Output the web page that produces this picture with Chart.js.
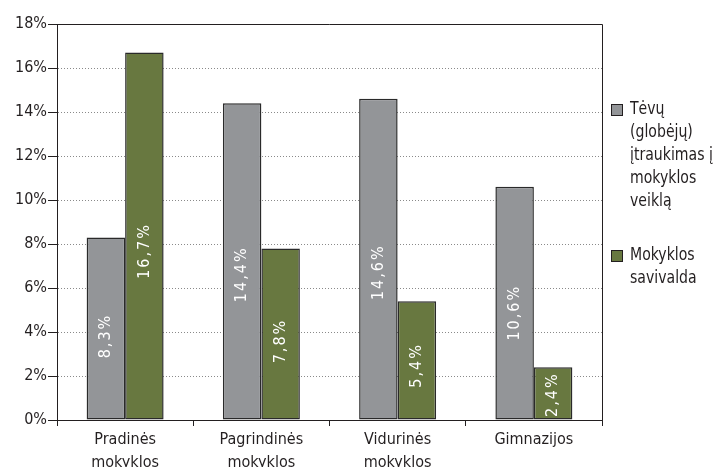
<!DOCTYPE html>
<html>
<head>
<meta charset="utf-8">
<script src="https://cdn.jsdelivr.net/npm/chart.js@4.4.0/dist/chart.umd.min.js"></script>
<style>
  html, body { margin: 0; padding: 0; background: #fff; }
  #wrap { width: 713px; height: 467px; }
</style>
</head>
<body>
<div id="wrap"><canvas id="chart" width="713" height="467"></canvas></div>
<script>
// data
const categories = [['Pradinės', 'mokyklos'], ['Pagrindinės', 'mokyklos'], ['Vidurinės', 'mokyklos'], ['Gimnazijos']];
const parentsValues = [8.3, 14.4, 14.6, 10.6];
const selfGovValues = [16.7, 7.8, 5.4, 2.4];
const seriesLines = [
  ['Tėvų', '(globėjų)', 'įtraukimas į', 'mokyklos', 'veiklą'],
  ['Mokyklos', 'savivalda']
];
const yTickValues = [0, 2, 4, 6, 8, 10, 12, 14, 16, 18];

const FONT = '"DejaVu Sans Condensed", "Liberation Sans", sans-serif';
const INK = '#231f20';
const GRAY = '#939598';
const GREEN = '#687840';

const fmt = v => v.toFixed(1).replace('.', ',') + '%';

// frame, rotated value labels and the right-hand legend
const extrasPlugin = {
  id: 'extras',
  afterDatasetsDraw(chart) {
    const { ctx, chartArea: a, scales: { y } } = chart;

    // top and right frame lines
    ctx.save();
    ctx.strokeStyle = INK;
    ctx.lineWidth = 1;
    ctx.beginPath();
    ctx.moveTo(a.left, a.top + 0.5);
    ctx.lineTo(a.right + 0.5, a.top + 0.5);
    ctx.lineTo(a.right + 0.5, a.bottom);
    ctx.stroke();
    ctx.restore();

    // value labels inside bars, reading bottom to top
    chart.data.datasets.forEach((ds, di) => {
      chart.getDatasetMeta(di).data.forEach((bar, i) => {
        const v = ds.data[i];
        const text = fmt(v);
        ctx.save();
        ctx.font = '16px ' + FONT;
        ctx.letterSpacing = '2px';
        const w = ctx.measureText(text).width;
        const base = y.getPixelForValue(0);
        const cy = Math.min(y.getPixelForValue(v * 0.46), base - w / 2 - 3);
        ctx.translate(bar.x, cy);
        ctx.rotate(-Math.PI / 2);
        ctx.fillStyle = '#fff';
        ctx.textAlign = 'center';
        ctx.textBaseline = 'middle';
        ctx.fillText(text, 0, 0);
        ctx.restore();
      });
    });

    // legend
    ctx.save();
    ctx.font = '17px ' + FONT;
    ctx.textBaseline = 'middle';
    let ly = 110;
    chart.data.datasets.forEach((ds, di) => {
      ctx.fillStyle = ds.backgroundColor;
      ctx.fillRect(611, ly - 6, 12, 12);
      ctx.strokeStyle = INK;
      ctx.lineWidth = 1;
      ctx.strokeRect(611.5, ly - 5.5, 11, 11);
      ctx.fillStyle = INK;
      seriesLines[di].forEach((line, li) => {
        ctx.save();
        ctx.translate(630, ly + li * 23);
        ctx.scale(0.92, 1);
        ctx.fillText(line, 0, 0);
        ctx.restore();
      });
      ly += seriesLines[di].length * 23 + 31;
    });
    ctx.restore();
  }
};

new Chart(document.getElementById('chart'), {
  type: 'bar',
  data: {
    labels: categories,
    datasets: [
      {
        label: seriesLines[0].join(' '),
        data: parentsValues,
        backgroundColor: GRAY,
        borderColor: '#2a2a2a',
        borderWidth: 1.5,
        borderSkipped: false
      },
      {
        label: seriesLines[1].join(' '),
        data: selfGovValues,
        backgroundColor: GREEN,
        borderColor: '#2a2a2a',
        borderWidth: 1.5,
        borderSkipped: false
      }
    ]
  },
  options: {
    responsive: false,
    animation: false,
    devicePixelRatio: 1,
    layout: { padding: { left: 0, right: 111, top: 24, bottom: 0 } },
    datasets: { bar: { categoryPercentage: 0.565, barPercentage: 1 } },
    plugins: {
      legend: { display: false },
      tooltip: { enabled: false }
    },
    scales: {
      x: {
        offset: true,
        grid: {
          offset: true,
          drawOnChartArea: false,
          tickLength: 6,
          tickColor: INK
        },
        border: { color: INK, width: 1 },
        ticks: {
          color: INK,
          padding: 2,
          font: { family: FONT, size: 16, lineHeight: 1.45 }
        },
        afterFit(s) { s.height = 47; }
      },
      y: {
        min: 0,
        max: 18,
        afterBuildTicks(s) { s.ticks = yTickValues.map(v => ({ value: v })); },
        grid: {
          color: '#8a8a8a',
          lineWidth: 1,
          tickLength: 9,
          tickColor: INK,
          tickBorderDash: []
        },
        border: { color: INK, width: 1, dash: [1, 2] },
        ticks: {
          color: INK,
          padding: 1,
          font: { family: FONT, size: 16 },
          callback: v => v + '%'
        },
        afterFit(s) { s.width = 57; }
      }
    }
  },
  plugins: [extrasPlugin]
});
</script>
</body>
</html>
